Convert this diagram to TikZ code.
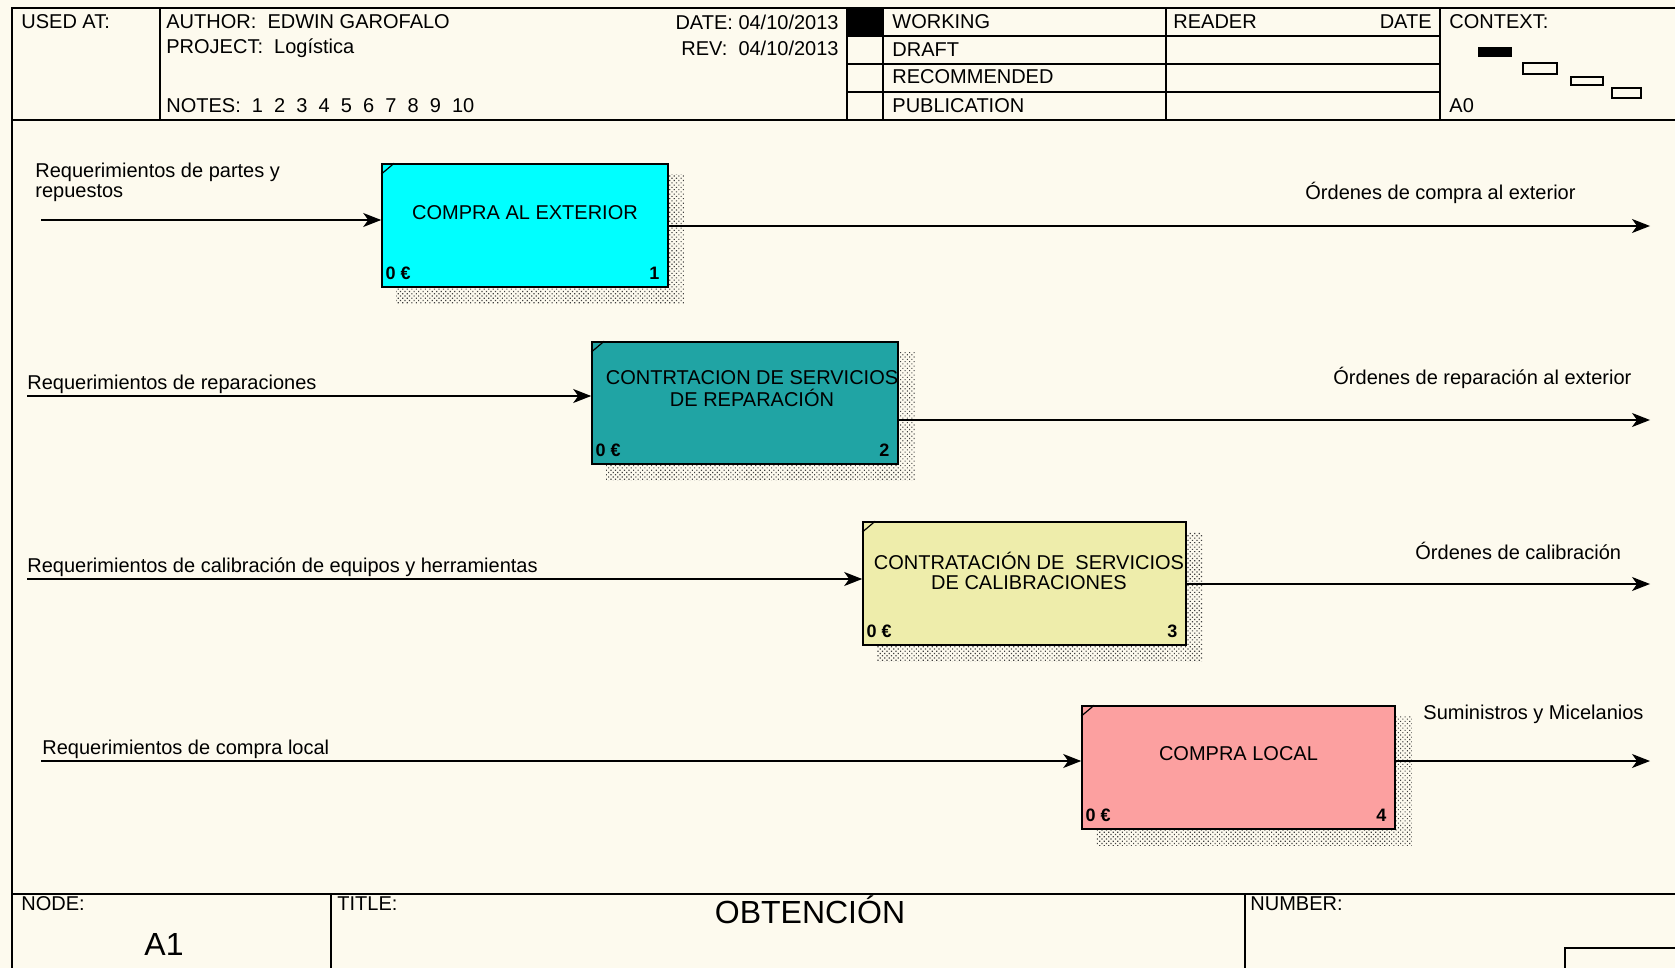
\documentclass[tikz,border=0pt]{standalone}
\usepackage{fontspec}
\setmainfont{Liberation Sans}
\usetikzlibrary{arrows.meta,patterns.meta,backgrounds}
\definecolor{paper}{HTML}{FDFAEE}
\definecolor{boxcyan}{HTML}{00FFFF}
\definecolor{boxteal}{HTML}{20A4A4}
\definecolor{boxyellow}{HTML}{EEEDAB}
\definecolor{boxpink}{HTML}{FCA0A0}

\begin{document}
\begin{tikzpicture}[x=0.5pt, y=-0.5pt, >={Stealth[length=9pt,width=7pt,inset=2.5pt]},
  txt/.style={font=\fontsize{10}{10}\selectfont, inner sep=0pt, anchor=west},
  big/.style={font=\fontsize{16}{16}\selectfont, inner sep=0pt},
  fnbox/.style={draw, line width=0.8pt, inner sep=0pt},
  fntitle/.style={font=\fontsize{10}{11}\selectfont, align=center, inner sep=0pt},
  cost/.style={font=\fontsize{9}{9}\selectfont\bfseries, inner sep=0pt, anchor=south west},
  hatch/.style={pattern={Dots[distance=1.6pt, radius=0.4pt, angle=45]}, pattern color=black!75},
  flow/.style={->, line width=0.7pt},
  frame/.style={line width=1pt},
  thinrule/.style={line width=0.6pt}]
  \useasboundingbox (0,0) rectangle (1675,968);
  \begin{scope}[on background layer]
    \fill[paper] (0,0) rectangle (1675,968);
  \end{scope}

  % Header
  \draw[frame] (12,968) -- (12,8) -- (1675,8);
  \draw[frame] (12,120) -- (1675,120);
  \draw[thinrule] (160,8) -- (160,120);
  \draw[thinrule] (847,8) -- (847,120);
  \draw[thinrule] (883,8) -- (883,120);
  \draw[thinrule] (1166,8) -- (1166,120);
  \draw[thinrule] (1440,8) -- (1440,120);
  \draw[thinrule] (847,36) -- (1440,36);
  \draw[thinrule] (847,64) -- (1440,64);
  \draw[thinrule] (847,92) -- (1440,92);
  \fill (847,8) rectangle (883,36);

  \node[txt] (usedat) at (21,22) {USED AT:};
  \node[txt] (author) at (166,22) {AUTHOR:~~EDWIN GAROFALO};
  \node[txt] (project) at (166,48) {PROJECT:~~Logística};
  \node[txt] (notes) at (166,106) {NOTES:~~1~~2~~3~~4~~5~~6~~7~~8~~9~~10};
  \node[txt, anchor=east] (date) at (839,22) {DATE: 04/10/2013};
  \node[txt, anchor=east] (rev) at (839,48) {REV:~~04/10/2013};
  \node[txt] (working) at (892,22) {WORKING};
  \node[txt] (draft) at (892,50) {DRAFT};
  \node[txt] (recommended) at (892,77) {RECOMMENDED};
  \node[txt] (publication) at (892,106) {PUBLICATION};
  \node[txt] (reader) at (1173,22) {READER};
  \node[txt, anchor=east] (readerdate) at (1432,22) {DATE};
  \node[txt] (context) at (1449,22) {CONTEXT:};
  \node[txt] (a0) at (1449,106) {A0};

  % Context map
  \fill (1478,47) rectangle (1512,57);
  \draw[thinrule] (1523,63) rectangle (1557,74);
  \draw[thinrule] (1571,77) rectangle (1603,85);
  \draw[thinrule] (1612,88) rectangle (1641,98);

  % Footer
  \draw[frame] (12,894) -- (1675,894);
  \draw[thinrule] (331,894) -- (331,968);
  \draw[thinrule] (1245,894) -- (1245,968);
  \draw[thinrule] (1565,968) -- (1565,948) -- (1675,948);
  \node[txt] (nodelbl) at (21,904) {NODE:};
  \node[big] (nodeno) at (164,944) {A1};
  \node[txt] (titlelbl) at (337,904) {TITLE:};
  \node[big] (title) at (810,910) {OBTENCIÓN};
  \node[txt] (numberlbl) at (1250,904) {NUMBER:};

  % Activity boxes
  \node[fnbox, fill=boxcyan, minimum width=143pt, minimum height=61.5pt] (compraext) at (525,225.5) {};
  \node[fnbox, fill=boxteal, minimum width=153pt, minimum height=61pt] (reparacion) at (745,403) {};
  \node[fnbox, fill=boxyellow, minimum width=161.5pt, minimum height=61.5pt] (calibracion) at (1024.5,583.5) {};
  \node[fnbox, fill=boxpink, minimum width=156.5pt, minimum height=61.5pt] (compraloc) at (1238.5,767.5) {};

  % Shadows
  \begin{scope}[on background layer]
    \fill[hatch] ([xshift=7.5pt,yshift=-5.5pt]compraext.north west) rectangle ([xshift=8pt,yshift=-8pt]compraext.south east);
    \fill[hatch] ([xshift=7.5pt,yshift=-5.5pt]reparacion.north west) rectangle ([xshift=8pt,yshift=-8pt]reparacion.south east);
    \fill[hatch] ([xshift=7.5pt,yshift=-5.5pt]calibracion.north west) rectangle ([xshift=8pt,yshift=-8pt]calibracion.south east);
    \fill[hatch] ([xshift=7.5pt,yshift=-5.5pt]compraloc.north west) rectangle ([xshift=8pt,yshift=-8pt]compraloc.south east);
  \end{scope}

  % Corner ticks
  \draw[thinrule] ([yshift=-5.5pt]compraext.north west) -- ([xshift=6.5pt]compraext.north west);
  \draw[thinrule] ([yshift=-5.5pt]reparacion.north west) -- ([xshift=6.5pt]reparacion.north west);
  \draw[thinrule] ([yshift=-5.5pt]calibracion.north west) -- ([xshift=6.5pt]calibracion.north west);
  \draw[thinrule] ([yshift=-5.5pt]compraloc.north west) -- ([xshift=6.5pt]compraloc.north west);

  \node[fntitle] (compraextT) at ([yshift=6.25pt]compraext.center) {COMPRA AL EXTERIOR};
  \node[fntitle] (reparacionT) at ([xshift=3.5pt,yshift=7pt]reparacion.center) {CONTRTACION DE SERVICIOS\\DE REPARACIÓN};
  \node[fntitle, font=\fontsize{10}{10}\selectfont] (calibracionT) at ([xshift=2.25pt,yshift=6.25pt]calibracion.center) {CONTRATACIÓN DE~~SERVICIOS\\DE CALIBRACIONES};
  \node[fntitle] (compralocT) at ([yshift=6.75pt]compraloc.center) {COMPRA LOCAL};

  \node[cost] (compraextC) at ([xshift=2pt,yshift=4pt]compraext.south west) {0 €};
  \node[cost, anchor=south east] (compraextN) at ([xshift=-4.5pt,yshift=4pt]compraext.south east) {1};
  \node[cost] (reparacionC) at ([xshift=2pt,yshift=4pt]reparacion.south west) {0 €};
  \node[cost, anchor=south east] (reparacionN) at ([xshift=-4.5pt,yshift=4pt]reparacion.south east) {2};
  \node[cost] (calibracionC) at ([xshift=2pt,yshift=4pt]calibracion.south west) {0 €};
  \node[cost, anchor=south east] (calibracionN) at ([xshift=-4.5pt,yshift=4pt]calibracion.south east) {3};
  \node[cost] (compralocC) at ([xshift=2pt,yshift=4pt]compraloc.south west) {0 €};
  \node[cost, anchor=south east] (compralocN) at ([xshift=-4.5pt,yshift=4pt]compraloc.south east) {4};

  % Inputs
  \coordinate (in1) at (41,220);
  \coordinate (in2) at (27,396);
  \coordinate (in3) at (27,579);
  \coordinate (in4) at (41,761);
  \draw[flow] (in1) -- (in1 -| compraext.west);
  \draw[flow] (in2) -- (in2 -| reparacion.west);
  \draw[flow] (in3) -- (in3 -| calibracion.west);
  \draw[flow] (in4) -- (in4 -| compraloc.west);
  \node[txt, align=left] (in1lbl) at (35,182) {Requerimientos de partes y\\repuestos};
  \node[txt] (in2lbl) at (27,384) {Requerimientos de reparaciones};
  \node[txt] (in3lbl) at (27,567) {Requerimientos de calibración de equipos y herramientas};
  \node[txt] (in4lbl) at (42,749) {Requerimientos de compra local};

  % Outputs
  \coordinate (out1) at (1650,226);
  \coordinate (out2) at (1650,420);
  \coordinate (out3) at (1650,584);
  \coordinate (out4) at (1650,761);
  \draw[flow] (out1 -| compraext.east) -- (out1);
  \draw[flow] (out2 -| reparacion.east) -- (out2);
  \draw[flow] (out3 -| calibracion.east) -- (out3);
  \draw[flow] (out4 -| compraloc.east) -- (out4);
  \node[txt] (out1lbl) at (1305,193) {Órdenes de compra al exterior};
  \node[txt] (out2lbl) at (1333,378) {Órdenes de reparación al exterior};
  \node[txt] (out3lbl) at (1415,551) {Órdenes de calibración};
  \node[txt] (out4lbl) at (1423,714) {Suministros y Micelanios};
\end{tikzpicture}
\end{document}
